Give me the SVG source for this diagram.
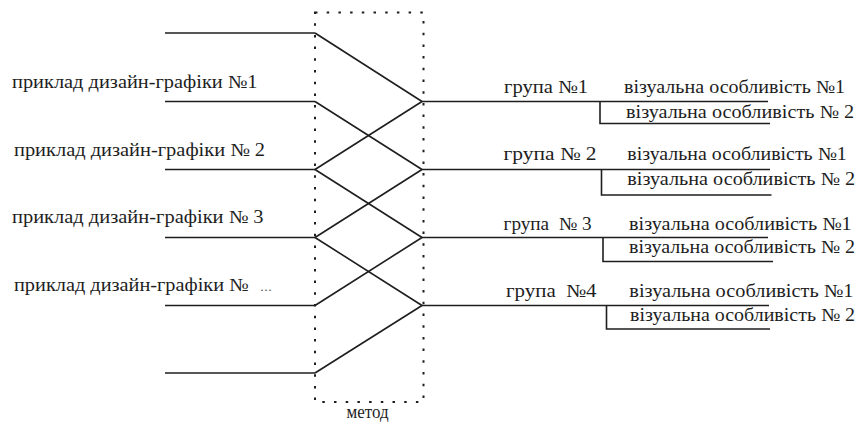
<svg xmlns="http://www.w3.org/2000/svg" width="861" height="425" viewBox="0 0 861 425">
<style>
.ln{stroke:#1e1e1e;stroke-width:1.6;fill:none}
.box{stroke:#1e1e1e;stroke-width:2;fill:none;stroke-dasharray:2.5 9.2}
.t{font-family:'Liberation Serif','Times New Roman',serif;font-size:18px;fill:#1e1e1e}
.ell{font-family:'Liberation Serif','Times New Roman',serif;font-size:12px;fill:#666}
</style>
<rect width="861" height="425" fill="#fff"/>
<g id="method">
<rect class="box" x="315" y="12.5" width="108.5" height="389.5"/>
<text class="t" x="346.5" y="418" textLength="42" lengthAdjust="spacingAndGlyphs">метод</text>
</g>
<g id="inputs">
<line class="ln" x1="165" y1="33" x2="315" y2="33"/>
<line class="ln" x1="165" y1="101.5" x2="315" y2="101.5"/>
<line class="ln" x1="165" y1="169.5" x2="315" y2="169.5"/>
<line class="ln" x1="165" y1="237.5" x2="315" y2="237.5"/>
<line class="ln" x1="165" y1="305.5" x2="315" y2="305.5"/>
<line class="ln" x1="165" y1="373" x2="315" y2="373"/>
</g>
<g id="example1"><text class="t" x="12" y="88" textLength="245.5" lengthAdjust="spacingAndGlyphs">приклад дизайн-графіки №1</text></g>
<g id="example2"><text class="t" x="14" y="155.5" textLength="251" lengthAdjust="spacingAndGlyphs">приклад дизайн-графіки № 2</text></g>
<g id="example3"><text class="t" x="12" y="222.7" textLength="251.5" lengthAdjust="spacingAndGlyphs">приклад дизайн-графіки № 3</text></g>
<g id="example4"><text class="t" x="14" y="290.7" textLength="234.5" lengthAdjust="spacingAndGlyphs">приклад дизайн-графіки №</text><text class="ell" x="260" y="290.7" textLength="12" lengthAdjust="spacingAndGlyphs">...</text></g>
<g id="connectors">
<line class="ln" x1="315" y1="33" x2="422" y2="101.5"/>
<line class="ln" x1="315" y1="101.5" x2="422" y2="169.5"/>
<line class="ln" x1="315" y1="169.5" x2="422" y2="101.5"/>
<line class="ln" x1="315" y1="169.5" x2="422" y2="237.5"/>
<line class="ln" x1="315" y1="237.5" x2="422" y2="169.5"/>
<line class="ln" x1="315" y1="237.5" x2="422" y2="305.5"/>
<line class="ln" x1="315" y1="305.5" x2="422" y2="237.5"/>
<line class="ln" x1="315" y1="373" x2="422" y2="305.5"/>
</g>
<g id="group1">
<polyline class="ln" points="422,101.5 768,101.5"/>
<polyline class="ln" points="600,101.5 600,123.5 770,123.5"/>
<text class="t" x="504" y="92.5" textLength="84" lengthAdjust="spacingAndGlyphs">група №1</text>
<text class="t" x="624" y="92.5" textLength="221" lengthAdjust="spacingAndGlyphs">візуальна особливість №1</text>
<text class="t" x="626" y="117.5" textLength="228" lengthAdjust="spacingAndGlyphs">візуальна особливість № 2</text>
</g>
<g id="group2">
<polyline class="ln" points="422,169.5 770,169.5"/>
<polyline class="ln" points="601.5,169.5 601.5,195 771.5,195"/>
<text class="t" x="503.5" y="160" textLength="93" lengthAdjust="spacingAndGlyphs">група № 2</text>
<text class="t" x="627.3" y="160" textLength="219.3" lengthAdjust="spacingAndGlyphs">візуальна особливість №1</text>
<text class="t" x="627.3" y="185" textLength="227.7" lengthAdjust="spacingAndGlyphs">візуальна особливість № 2</text>
</g>
<g id="group3">
<polyline class="ln" points="422,237.5 768,237.5"/>
<polyline class="ln" points="603,237.5 603,261.5 773,261.5"/>
<text class="t" x="503.5" y="230" textLength="88" lengthAdjust="spacingAndGlyphs" xml:space="preserve">група  № 3</text>
<text class="t" x="629" y="230" textLength="222.5" lengthAdjust="spacingAndGlyphs">візуальна особливість №1</text>
<text class="t" x="629" y="253.3" textLength="226" lengthAdjust="spacingAndGlyphs">візуальна особливість № 2</text>
</g>
<g id="group4">
<polyline class="ln" points="422,305.5 769,305.5"/>
<polyline class="ln" points="606.5,305.5 606.5,329 770,329"/>
<text class="t" x="506" y="296.7" textLength="90.5" lengthAdjust="spacingAndGlyphs" xml:space="preserve">група  №4</text>
<text class="t" x="629.3" y="296.7" textLength="224" lengthAdjust="spacingAndGlyphs">візуальна особливість №1</text>
<text class="t" x="630" y="320.7" textLength="225" lengthAdjust="spacingAndGlyphs">візуальна особливість № 2</text>
</g>
</svg>
